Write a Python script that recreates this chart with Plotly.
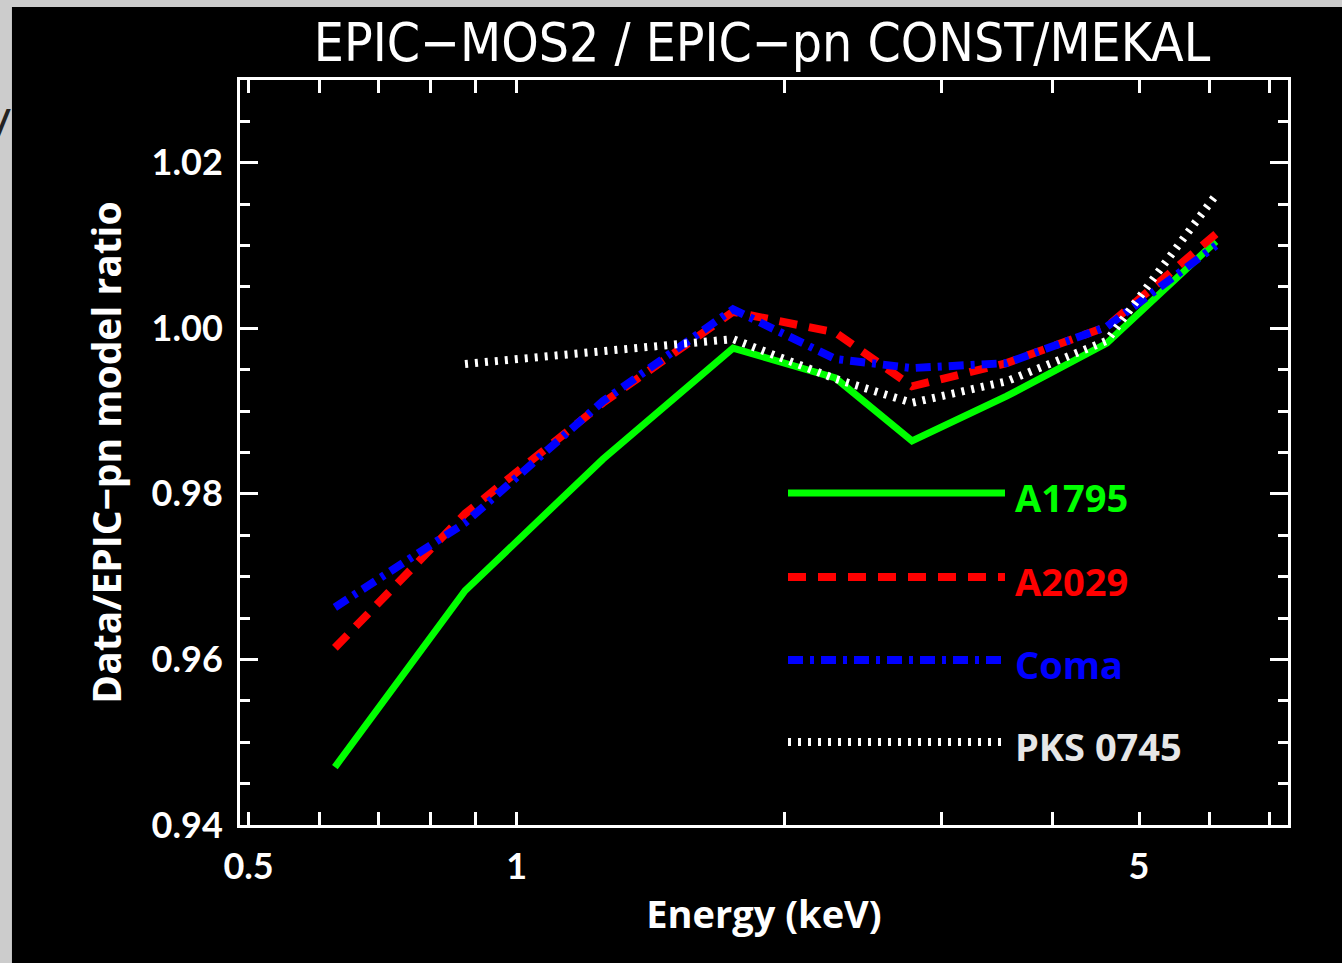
import math
import plotly.graph_objects as go

# ---------------- data ----------------
energy = [0.625, 0.875, 1.25, 1.75, 2.28, 2.78, 3.55, 4.6, 6.1]
a1795 = [0.9470, 0.9683, 0.9842, 0.9976, 0.9940, 0.9864, 0.9918, 0.9982, 1.0105]
a2029 = [0.9614, 0.9776, 0.9910, 1.0020, 0.9995, 0.9930, 0.9958, 1.0002, 1.0114]
coma = [0.9663, 0.9765, 0.9912, 1.0023, 0.9963, 0.9952, 0.9958, 1.0002, 1.0100]
pks_energy = [0.875, 1.25, 1.75, 2.28, 2.78, 3.55, 4.6, 6.1]
pks0745 = [0.9957, 0.9972, 0.9987, 0.9939, 0.9910, 0.9936, 0.9985, 1.0161]

ref_level = 1.0
x_ticks = [0.5, 0.6, 0.7, 0.8, 0.9, 1, 2, 3, 4, 5, 6, 7]
x_ticklabels = ["0.5", "", "", "", "", "1", "", "", "", "5", "", ""]
x_range = [0.489, 7.35]
y_range = [0.94, 1.03]

names = ["A1795", "A2029", "Coma", "PKS 0745"]
colors = ["#00ff00", "#ff0000", "#0000ff", "#ffffff"]
label_colors = ["#00ff00", "#ff0000", "#0000ff", "#e6e6e6"]
dashes = ["solid", "18px,12px", "15px,7px,4px,7px", "3px,7px"]
widths = [7, 8, 8, 8]

FONT = "Lato, 'Open Sans', 'DejaVu Sans', sans-serif"
WIDE = "'Open Sans', Lato, 'DejaVu Sans', sans-serif"

fig = go.Figure()

series = [(energy, a1795), (energy, a2029), (energy, coma), (pks_energy, pks0745)]
for (xs, ys), nm, c, d, w in zip(series, names, colors, dashes, widths):
    fig.add_trace(go.Scatter(x=xs, y=ys, mode="lines", name=nm,
                             line=dict(color=c, width=w, dash=d),
                             showlegend=False))

# reference line at ratio = 1
fig.add_shape(type="line", xref="paper", x0=0, x1=1, yref="y", y0=ref_level, y1=ref_level,
              line=dict(color="white", width=7, dash="15px,15px"), layer="below")

# black panel over grey textured border
fig.add_shape(type="rect", xref="paper", yref="paper", x0=-0.2176, x1=1.2, y0=-0.3, y1=1.098,
              fillcolor="black", line=dict(width=0), layer="below")

# custom legend (long line samples with coloured labels)
L = 240
R = 1288
T = 80
B = 825
def px_x(p):
    return (p - L) / (R - L)
def px_y(p):
    return (B - p) / (B - T)

legend_y = [493, 577, 660, 742]
for nm, c, lc, d, w, yy in zip(names, colors, label_colors, dashes, widths, legend_y):
    fig.add_shape(type="line", xref="paper", yref="paper",
                  x0=px_x(788), x1=px_x(1005), y0=px_y(yy), y1=px_y(yy),
                  line=dict(color=c, width=w, dash=d))
    fig.add_annotation(xref="paper", yref="paper", x=px_x(1013), y=px_y(yy + 4),
                       text=nm, showarrow=False, xanchor="left", yanchor="middle",
                       font=dict(family=WIDE, size=38, color=lc, weight="bold"))

# stray character at the far left of the border
fig.add_annotation(xref="paper", yref="paper", x=px_x(14), y=px_y(118), text="y",
                   showarrow=False, xanchor="right", yanchor="middle",
                   font=dict(family="'DejaVu Sans', sans-serif", size=44, color="#222222"))

fig.update_layout(
    width=1342, height=963,
    margin=dict(l=L, r=1342 - R, t=T, b=963 - B),
    paper_bgcolor="#cccccc",
    plot_bgcolor="black",
    title=dict(text="EPIC\u2212MOS2 / EPIC\u2212pn CONST/MEKAL",
               x=(762) / 1342, xanchor="center", y=1 - 42 / 963, yanchor="middle",
               font=dict(family="'DejaVu Sans Condensed', 'Liberation Sans Narrow', sans-serif",
                         size=53, color="white")),
    xaxis=dict(type="log", range=[math.log10(x_range[0]), math.log10(x_range[1])],
               tickvals=x_ticks, ticktext=x_ticklabels,
               ticks="inside", ticklen=13, tickwidth=3, tickcolor="white",
               showline=True, linecolor="white", linewidth=3, mirror="ticks",
               showgrid=False, zeroline=False, ticklabelstandoff=8,
               tickfont=dict(family=FONT, size=36, color="white", weight="bold"),
               title=dict(text="Energy (keV)", standoff=16,
                          font=dict(family=WIDE, size=38, color="white", weight="bold"))),
    yaxis=dict(range=y_range, tick0=0.94, dtick=0.02, tickformat=".2f",
               ticks="inside", ticklen=18, tickwidth=3, tickcolor="white",
               minor=dict(dtick=0.005, ticks="inside", ticklen=10, tickwidth=3, tickcolor="white"),
               showline=True, linecolor="white", linewidth=3, mirror="ticks",
               showgrid=False, zeroline=False, ticklabelstandoff=7,
               tickfont=dict(family=FONT, size=36, color="white", weight="bold"),
               title=dict(text="Data/EPIC\u2212pn model ratio", standoff=18,
                          font=dict(family=WIDE, size=39, color="white", weight="bold"))),
)

fig.write_html("out.html", config={"displayModeBar": False},
               post_script="document.body.style.margin='0';document.body.style.overflow='hidden';")
